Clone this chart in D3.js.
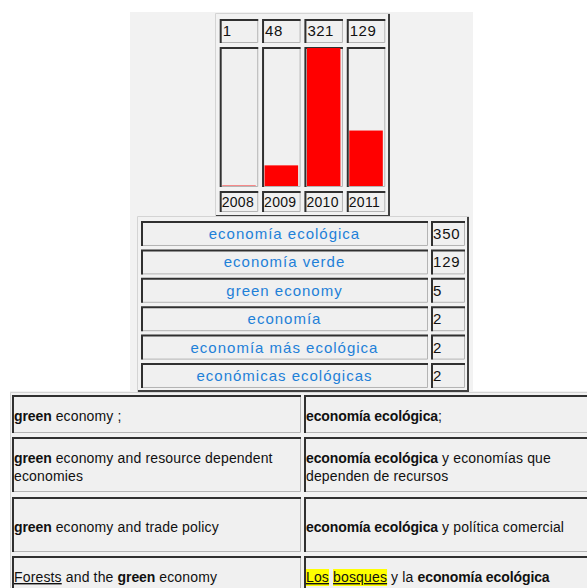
<!DOCTYPE html>
<html>
<head>
<meta charset="utf-8">
<script src="https://cdn.jsdelivr.net/npm/d3@7"></script>
<style>
  html, body { margin: 0; padding: 0; background: #fff; }
  svg { display: block; }
  text { font-family: "Liberation Sans", Arial, sans-serif; }
</style>
</head>
<body>
<div id="chart"></div>
<script>
// ---- data ----
const years = ["2008", "2009", "2010", "2011"];
const yearCounts = [1, 48, 321, 129];

const terms = ["economía ecológica", "economía verde", "green economy", "economía",
               "economía más ecológica", "económicas ecológicas"];
const termCounts = [350, 129, 5, 2, 2, 2];

// each row = lines, each line = segments (b: bold, u: underline, h: highlight)
const sourceRows = [
  [[{t: "green", b: 1}, {t: " economy ;"}]],
  [[{t: "green", b: 1}, {t: " economy and resource dependent"}], [{t: "economies"}]],
  [[{t: "green", b: 1}, {t: " economy and trade policy"}]],
  [[{t: "Forests", u: 1}, {t: " and the "}, {t: "green", b: 1}, {t: " economy"}]]
];
const targetRows = [
  [[{t: "economía ecológica", b: 1}, {t: ";"}]],
  [[{t: "economía ecológica", b: 1}, {t: " y economías que"}], [{t: "dependen de recursos"}]],
  [[{t: "economía ecológica", b: 1}, {t: " y política comercial"}]],
  [[{t: "Los", u: 1, h: 1}, {t: " "}, {t: "bosques", u: 1, h: 1}, {t: " y la "}, {t: "economía ecológica", b: 1}]]
];

// ---- setup ----
const W = 587, H = 588;
const svg = d3.select("#chart").append("svg").attr("width", W).attr("height", H);

// page backgrounds
svg.append("rect").attr("x", 130).attr("y", 12).attr("width", 343).attr("height", 380).attr("fill", "#f2f2f2");
svg.append("rect").attr("x", 10).attr("y", 391).attr("width", W - 10).attr("height", H - 391).attr("fill", "#f2f2f2");

// outset table border
function tableBox(x, y, w, h) {
  svg.append("path").attr("d", `M${x + 0.5},${y + h} V${y + 0.5} H${x + w}`)
    .attr("fill", "none").attr("stroke", "#d4d4d4").attr("stroke-width", 1);
  svg.append("path").attr("d", `M${x + w - 1},${y + 1} V${y + h - 1} H${x + 1}`)
    .attr("fill", "none").attr("stroke", "#404040").attr("stroke-width", 2);
}

// inset cell
function cell(g, x, y, w, h) {
  g.append("rect").attr("x", x).attr("y", y).attr("width", w).attr("height", h).attr("fill", "#f0f0f0");
  g.append("path").attr("d", `M${x + w - 0.5},${y + 0.5} V${y + h - 0.5} H${x + 0.5}`)
    .attr("fill", "none").attr("stroke", "#b4b4b4").attr("stroke-width", 1);
  g.append("path").attr("d", `M${x + 1},${y + h} V${y + 1} H${x + w}`)
    .attr("fill", "none").attr("stroke", "#303030").attr("stroke-width", 2);
}

// ---- year bar table ----
tableBox(215, 13, 175, 204);

const x = d3.scaleBand().domain(years).range([218, 387]).paddingInner(0.09).paddingOuter(0.04);
const y = d3.scaleLinear().domain([0, d3.max(yearCounts)]).range([186, 48]);

const yearData = years.map((yr, i) => ({year: yr, count: yearCounts[i]}));

const valueRow = {top: 19, h: 24};
const barRow = {top: 47, h: 140};
const yearRow = {top: 191, h: 21};

const gBars = svg.append("g");
yearData.forEach(d => {
  cell(gBars, x(d.year), valueRow.top, x.bandwidth(), valueRow.h);
  cell(gBars, x(d.year), barRow.top, x.bandwidth(), barRow.h);
  cell(gBars, x(d.year), yearRow.top, x.bandwidth(), yearRow.h);
});

gBars.selectAll(".bar").data(yearData).enter().append("rect")
  .attr("class", "bar")
  .attr("x", d => x(d.year) + 2.5)
  .attr("y", d => y(d.count))
  .attr("width", x.bandwidth() - 5)
  .attr("height", d => y(0) - y(d.count))
  .attr("fill", "#ff0000");

gBars.selectAll(".val").data(yearData).enter().append("text")
  .attr("class", "val")
  .attr("x", d => x(d.year) + 3)
  .attr("y", valueRow.top + 17)
  .attr("font-size", 15).attr("letter-spacing", 0.5).attr("fill", "#111")
  .text(d => d.count);

gBars.selectAll(".yr").data(yearData).enter().append("text")
  .attr("class", "yr")
  .attr("x", d => x(d.year) + 2)
  .attr("y", yearRow.top + 16)
  .attr("font-size", 14).attr("letter-spacing", 0.3).attr("fill", "#111")
  .text(d => d.year);

// ---- terms table ----
tableBox(137, 216, 332, 176);

const yTerm = d3.scaleBand().domain(terms).range([219.3, 389.7]).paddingInner(0.12).paddingOuter(0.06);
const termCol = {x: 141, w: 287};
const countCol = {x: 431, w: 34};
const termData = terms.map((t, i) => ({term: t, count: termCounts[i]}));

const gTerms = svg.append("g");
termData.forEach(d => {
  cell(gTerms, termCol.x, yTerm(d.term), termCol.w, yTerm.bandwidth());
  cell(gTerms, countCol.x, yTerm(d.term), countCol.w, yTerm.bandwidth());
});

gTerms.selectAll(".term").data(termData).enter().append("text")
  .attr("class", "term")
  .attr("x", termCol.x + termCol.w / 2)
  .attr("y", d => yTerm(d.term) + yTerm.bandwidth() / 2 + 5.5)
  .attr("text-anchor", "middle")
  .attr("font-size", 15).attr("letter-spacing", 1).attr("fill", "#1e80d8")
  .text(d => d.term);

gTerms.selectAll(".tcount").data(termData).enter().append("text")
  .attr("class", "tcount")
  .attr("x", countCol.x + 2)
  .attr("y", d => yTerm(d.term) + yTerm.bandwidth() / 2 + 5.5)
  .attr("font-size", 15).attr("letter-spacing", 0.8).attr("fill", "#111")
  .text(d => d.count);

// ---- sentence table ----
const rowTops = [395, 437, 497, 556];
const rowHeights = [38, 55, 55, 45];
const leftCol = {x: 12, w: 289};
const rightCol = {x: 304, w: 290};

const gSent = svg.append("g");
// outer border of bottom table (only top/left visible)
gSent.append("path").attr("d", `M10.5,${H} V392.5 H${W}`).attr("fill", "none").attr("stroke", "#d4d4d4");

function writeRow(rows, col) {
  rows.forEach((lines, r) => {
    cell(gSent, col.x, rowTops[r], col.w, rowHeights[r]);
    const mid = r === 3 ? 577 : rowTops[r] + rowHeights[r] / 2 + 2;
    lines.forEach((segs, li) => {
      const base = mid + 5 + (li - (lines.length - 1) / 2) * 18;
      const hl = gSent.append("g");
      const txt = gSent.append("text").attr("x", col.x + 2).attr("y", base)
        .attr("font-size", 14).attr("fill", "#111");
      segs.forEach(s => {
        const ts = txt.append("tspan").text(s.t)
          .attr("font-weight", s.b ? "bold" : "normal")
          .attr("letter-spacing", s.b ? -0.1 : 0.15);
        if (s.u) ts.attr("text-decoration", "underline");
        if (s.h) {
          const node = ts.node();
          const x0 = node.getStartPositionOfChar(0).x;
          const w = node.getComputedTextLength();
          hl.append("rect").attr("x", x0).attr("y", base - 13).attr("width", w).attr("height", 17)
            .attr("fill", "#ffff00");
        }
      });
    });
  });
}
writeRow(sourceRows, leftCol);
writeRow(targetRows, rightCol);
</script>
</body>
</html>
